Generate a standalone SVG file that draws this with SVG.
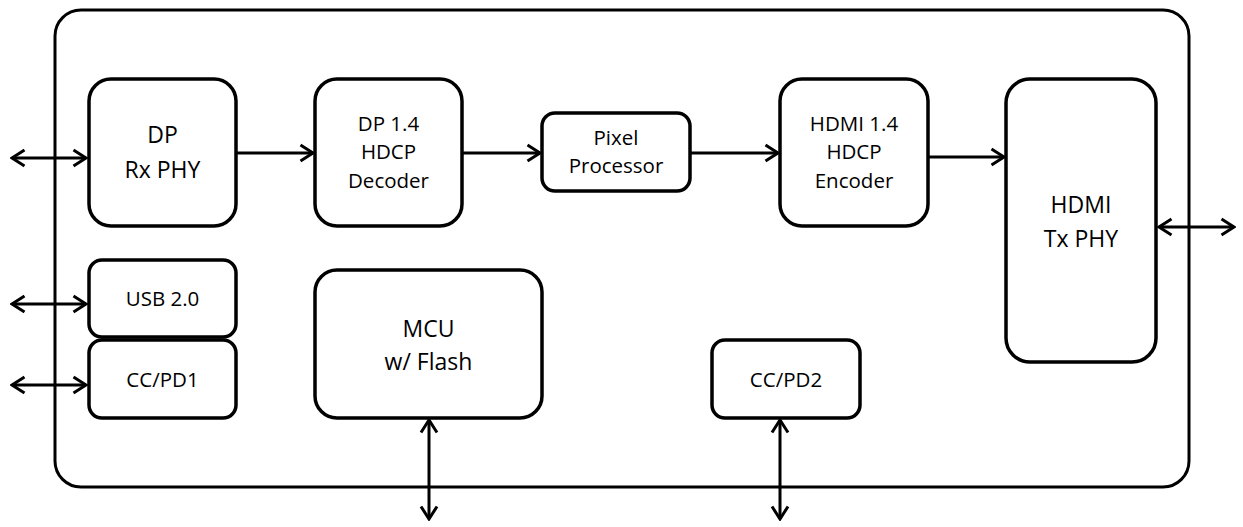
<svg xmlns="http://www.w3.org/2000/svg" width="1243" height="527" viewBox="0 0 1243 527">
<defs>
<marker id="ah" viewBox="0 0 16 20" refX="14" refY="10" markerWidth="16" markerHeight="20" markerUnits="userSpaceOnUse" orient="auto-start-reverse">
<path d="M1.5,2 L14,10 L1.5,18" fill="none" stroke="#000" stroke-width="3" stroke-linejoin="miter"/>
</marker>
<style>
.box{fill:#fff;stroke:#000;stroke-width:3.5}
.outer{fill:#fff;stroke:#000;stroke-width:3}
.con{stroke:#000;stroke-width:3;fill:none}
text{font-family:"Open Sans","Liberation Sans",sans-serif;fill:#000;text-anchor:middle}
.s{font-size:20.5px}
.l{font-size:23px}
</style>
</defs>
<rect class="outer" x="55" y="10" width="1134" height="477" rx="26"/>
<g id="connectors">
<line class="con" x1="12" y1="158" x2="86" y2="158" marker-start="url(#ah)" marker-end="url(#ah)"/>
<line class="con" x1="12" y1="304" x2="86" y2="304" marker-start="url(#ah)" marker-end="url(#ah)"/>
<line class="con" x1="12" y1="385" x2="86" y2="385" marker-start="url(#ah)" marker-end="url(#ah)"/>
<line class="con" x1="237" y1="153" x2="313" y2="153" marker-end="url(#ah)"/>
<line class="con" x1="463" y1="153" x2="540" y2="153" marker-end="url(#ah)"/>
<line class="con" x1="691" y1="153" x2="778" y2="153" marker-end="url(#ah)"/>
<line class="con" x1="929" y1="157" x2="1004" y2="157" marker-end="url(#ah)"/>
<line class="con" x1="1159" y1="227" x2="1234" y2="227" marker-start="url(#ah)" marker-end="url(#ah)"/>
<line class="con" x1="429" y1="420" x2="429" y2="519" marker-start="url(#ah)" marker-end="url(#ah)"/>
<line class="con" x1="780" y1="420" x2="780" y2="519" marker-start="url(#ah)" marker-end="url(#ah)"/>
</g>
<g id="dp-rx-phy">
<rect class="box" x="89" y="79" width="147" height="147" rx="22"/>
<text class="l" x="162.5" y="143">DP</text>
<text class="l" x="162.5" y="178">Rx PHY</text>
</g>
<g id="dp-hdcp-decoder">
<rect class="box" x="315" y="79" width="147" height="147" rx="22"/>
<text class="s" x="388.5" y="131">DP 1.4</text>
<text class="s" x="388.5" y="159">HDCP</text>
<text class="s" x="388.5" y="188">Decoder</text>
</g>
<g id="pixel-processor">
<rect class="box" x="542" y="113" width="148" height="78" rx="13"/>
<text class="s" x="616" y="145">Pixel</text>
<text class="s" x="616" y="173">Processor</text>
</g>
<g id="hdmi-hdcp-encoder">
<rect class="box" x="780" y="79" width="148" height="147" rx="22"/>
<text class="s" x="854" y="131">HDMI 1.4</text>
<text class="s" x="854" y="159">HDCP</text>
<text class="s" x="854" y="188">Encoder</text>
</g>
<g id="hdmi-tx-phy">
<rect class="box" x="1006" y="79" width="150" height="283" rx="24"/>
<text class="l" x="1081" y="213">HDMI</text>
<text class="l" x="1081" y="247">Tx PHY</text>
</g>
<g id="usb">
<rect class="box" x="89" y="260" width="147" height="77" rx="13"/>
<text class="s" x="162.5" y="306">USB 2.0</text>
</g>
<g id="ccpd1">
<rect class="box" x="89" y="340" width="147" height="78" rx="13"/>
<text class="s" x="162.5" y="387">CC/PD1</text>
</g>
<g id="mcu">
<rect class="box" x="315" y="270" width="227" height="148" rx="22"/>
<text class="l" x="428.5" y="337">MCU</text>
<text class="l" x="428.5" y="370">w/ Flash</text>
</g>
<g id="ccpd2">
<rect class="box" x="712" y="340" width="148" height="78" rx="13"/>
<text class="s" x="786" y="387">CC/PD2</text>
</g>
</svg>
